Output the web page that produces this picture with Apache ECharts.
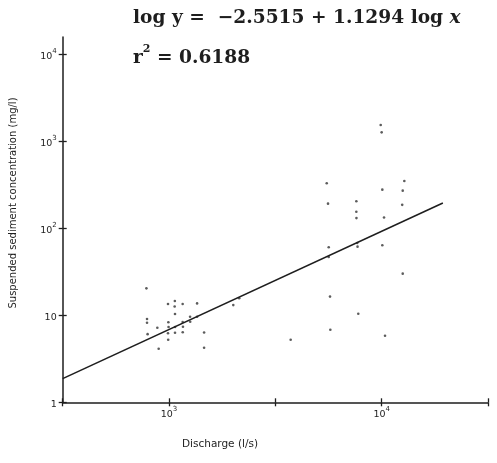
<!DOCTYPE html>
<html>
<head>
<meta charset="utf-8">
<script src="https://cdn.jsdelivr.net/npm/echarts@6/dist/echarts.min.js"></script>
<style>
  html, body { margin: 0; padding: 0; background: #fff; }
  #chart { width: 497px; height: 463px; }
</style>
</head>
<body>
<div id="chart"></div>
<script>
// Discharge (l/s) and suspended sediment concentration (mg/l) samples
const dischargeLs = [
  783, 788, 788, 793, 881, 894,
  989, 993, 995, 989, 991,
  1065, 1063, 1067, 1068, 1067,
  1159, 1159, 1163, 1160,
  1256, 1258, 1355, 1355, 1462, 1462,
  2005, 2138, 3733,
  5515, 5593, 5635, 5635, 5716, 5735,
  7600, 7600, 7610, 7674, 7700, 7762,
  9895, 9998, 10070, 10260, 10070, 10370,
  12780, 12560, 12490, 12560
];
const sedimentMgL = [
  20.4, 9.07, 8.22, 6.07, 7.18, 4.13,
  13.5, 8.31, 7.34, 6.21, 5.24,
  14.6, 12.6, 10.35, 7.34, 6.31,
  13.5, 8.38, 7.39, 6.38,
  9.64, 8.44, 13.7, 9.64, 6.34, 4.24,
  13.1, 15.7, 5.24,
  329, 192, 60.5, 46.8, 16.4, 6.83,
  205, 155, 131, 67.8, 61.5, 10.4,
  1539, 1268, 278, 133, 63.8, 5.83,
  350, 271, 186, 30.1
];

// Regression: log y = a + b log x, drawn across this discharge span
const fitIntercept = -2.5515;
const fitSlope = 1.1294;
const fitDischargeRange = [316.2, 19400];

// Axis extents and tick positions
const xMin = 316.2278, xMax = 31622.78;
const yMin = 1, yMax = 15848.93;
const xTickValues = [316.2278, 1000, 3162.278, 10000, 31622.78];
const xLabelValues = [1000, 10000];
const yTickValues = [1, 10, 100, 1000, 10000];

const ink = '#1e1e1e';

const points = dischargeLs.map((x, i) => [x, sedimentMgL[i]]);
const fitLine = fitDischargeRange.map(x => [x, Math.pow(10, fitIntercept + fitSlope * Math.log10(x))]);

function powLabel(v) {
  const e = Math.round(Math.log10(v));
  if (e === 0) return '{b|1}';
  if (e === 1) return '{b|10}';
  return '{b|10}{s|' + e + '}';
}

const labelRich = {
  b: { fontSize: 9.5, color: ink, fontFamily: 'DejaVu Sans', verticalAlign: 'bottom', lineHeight: 14 },
  s: { fontSize: 7, color: ink, fontFamily: 'DejaVu Sans', verticalAlign: 'top', lineHeight: 14 }
};

const chart = echarts.init(document.getElementById('chart'), null, { renderer: 'canvas' });

chart.setOption({
  animation: false,
  backgroundColor: '#fff',
  grid: { left: 62.7, right: 9, top: 36.9, bottom: 60.7, containLabel: false },
  xAxis: [
    {
      type: 'log', logBase: 10, min: xMin, max: xMax, position: 'bottom', offset: 0,
      axisLine: { show: true, lineStyle: { color: ink, width: 1.5 } },
      axisTick: { show: true, inside: false, length: 4, customValues: xTickValues, lineStyle: { color: ink, width: 1.3 } },
      axisLabel: { show: true, customValues: xLabelValues, margin: 3, formatter: powLabel, rich: labelRich },
      splitLine: { show: false }
    },
    {
      type: 'log', logBase: 10, min: xMin, max: xMax, position: 'bottom', offset: 0,
      axisLine: { show: false },
      axisTick: { show: true, inside: true, length: 4, customValues: xTickValues, lineStyle: { color: ink, width: 1.3 } },
      axisLabel: { show: false },
      splitLine: { show: false }
    }
  ],
  yAxis: [
    {
      type: 'log', logBase: 10, min: yMin, max: yMax, position: 'left', offset: 0,
      axisLine: { show: true, lineStyle: { color: ink, width: 1.5 } },
      axisTick: { show: true, inside: false, length: 4, customValues: yTickValues, lineStyle: { color: ink, width: 1.3 } },
      axisLabel: { show: true, customValues: yTickValues, margin: 6, formatter: powLabel, rich: labelRich },
      splitLine: { show: false }
    },
    {
      type: 'log', logBase: 10, min: yMin, max: yMax, position: 'left', offset: 0,
      axisLine: { show: false },
      axisTick: { show: true, inside: true, length: 4, customValues: yTickValues, lineStyle: { color: ink, width: 1.3 } },
      axisLabel: { show: false },
      splitLine: { show: false }
    }
  ],
  graphic: [
    {
      // regression equation
      type: 'text', left: 133, top: 9,
      style: {
        text: '{n|log y =  \u22122.5515 + 1.1294 log }{i|x}',
        rich: {
          n: { fontFamily: 'DejaVu Serif', fontWeight: 'bold', fontSize: 18.6, fill: ink },
          i: { fontFamily: 'DejaVu Serif', fontWeight: 'bold', fontStyle: 'italic', fontSize: 18.6, fill: ink }
        }
      }
    },
    {
      type: 'text', left: 133, top: 44,
      style: {
        text: '{n|r}{s|2}{n| = 0.6188}',
        rich: {
          n: { fontFamily: 'DejaVu Serif', fontWeight: 'bold', fontSize: 18.6, fill: ink, verticalAlign: 'bottom', lineHeight: 24 },
          s: { fontFamily: 'DejaVu Serif', fontWeight: 'bold', fontSize: 11, fill: ink, verticalAlign: 'top', lineHeight: 24 }
        }
      }
    },
    {
      // y-axis title
      type: 'text', x: 13, y: 203, rotation: Math.PI / 2,
      style: {
        text: 'Suspended sediment concentration (mg/l)',
        fontFamily: 'DejaVu Sans', fontSize: 10, fill: ink,
        align: 'center', verticalAlign: 'middle'
      }
    },
    {
      // x-axis title
      type: 'text', x: 220, y: 444,
      style: {
        text: 'Discharge (l/s)',
        fontFamily: 'DejaVu Sans', fontSize: 10.5, fill: ink,
        align: 'center', verticalAlign: 'middle'
      }
    }
  ],
  series: [
    {
      type: 'scatter', xAxisIndex: 0, yAxisIndex: 0,
      data: points, symbol: 'circle', symbolSize: 2.6,
      itemStyle: { color: '#333' }
    },
    {
      type: 'line', xAxisIndex: 0, yAxisIndex: 0,
      data: fitLine, showSymbol: false,
      lineStyle: { color: ink, width: 1.6 }
    }
  ]
});
</script>
</body>
</html>
